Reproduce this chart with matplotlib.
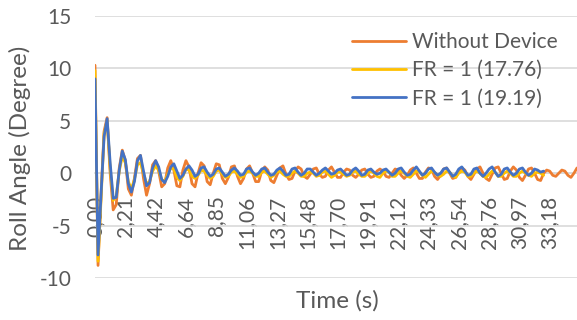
import matplotlib
matplotlib.use("Agg")
import matplotlib.pyplot as plt
import numpy as np

# ---------------- data ----------------
tick_labels = ["0,00", "2,21", "4,42", "6,64", "8,85", "11,06", "13,27", "15,48",
               "17,70", "19,91", "22,12", "24,33", "26,54", "28,76", "30,97", "33,18"]

without_device = [
    10.3, -8.8, -2.0, 4.0, 5.3, 0.0, -3.5, -3.0, 0.5, 2.2,
    1.2, -1.5, -2.1, -0.5, 1.4, 1.7, -0.5, -2.1, -1.0, 0.8,
    1.2, 0.2, -1.3, -1.0, 0.5, 1.2, 0.3, -1.2, -1.3, 0.3,
    1.2, 0.6, -1.0, -1.3, 0.0, 1.0, 0.7, -0.8, -1.1, 0.0,
    0.9, 0.8, -0.5, -1.0, -0.4, 0.6, 0.7, -0.3, -1.0, -0.5,
    0.4, 0.7, 0.0, -0.8, -0.8, 0.2, 0.6, 0.3, -0.7, -0.9,
    -0.2, 0.5, 0.7, -0.1, -0.6, -0.5, 0.2, 0.6, 0.4, -0.3,
    -0.5, -0.1, 0.4, 0.5, -0.1, -0.4, -0.3, 0.3, 0.6, 0.1,
    -0.4, -0.4, 0.1, 0.4, 0.3, -0.2, -0.4, -0.1, 0.3, 0.4,
    -0.1, -0.4, -0.3, 0.2, 0.4, 0.2, -0.3, -0.4, 0.0, 0.4,
    0.3, -0.2, -0.5, -0.2, 0.3, 0.5, 0.0, -0.5, -0.5, 0.1,
    0.5, 0.4, -0.3, -0.6, -0.2, 0.4, 0.5, 0.0, -0.5, -0.4,
    0.2, 0.5, 0.3, -0.3, -0.6, -0.1, 0.4, 0.6, 0.0, -0.5,
    -0.7, -0.1, 0.5, 0.6, 0.0, -0.6, -0.5, 0.2, 0.6, 0.3,
    -0.4, -0.7, -0.2, 0.4, 0.5, 0.0, -0.6, -0.7, 0.0, 0.3,
    0.2, -0.2, -0.3, 0.0, 0.3, 0.2, -0.2, -0.4, 0.0, 0.5,
]

fr_1776 = [
    9.8, -8.4, -2.5, 3.8, 5.0, 0.5, -2.6, -2.2, 0.2, 1.6,
    1.0, -0.8, -1.5, -0.6, 0.8, 1.0, 0.0, -1.0, -0.8, 0.2,
    0.7, 0.3, -0.6, -0.8, -0.1, 0.5, 0.4, -0.4, -0.7, -0.3,
    0.4, 0.3, -0.3, -0.5, -0.2, 0.3, 0.2, -0.2, -0.5, -0.3,
    0.2, 0.3, -0.1, -0.4, -0.3, 0.1, 0.2, -0.1, -0.4, -0.3,
    0.1, 0.2, 0.0, -0.3, -0.3, 0.1, 0.2, -0.1, -0.4, -0.2,
    0.1, 0.2, -0.1, -0.3, -0.3, 0.0, 0.2, 0.0, -0.3, -0.3,
    0.0, 0.1, 0.0, -0.3, -0.2, 0.1, 0.2, -0.1, -0.4, -0.2,
    0.1, 0.1, -0.1, -0.3, -0.2, 0.1, 0.2, -0.1, -0.3, -0.3,
    0.0, 0.2, 0.0, -0.3, -0.4, 0.0, 0.2, 0.1, -0.3, -0.3,
    0.0, 0.2, 0.0, -0.3, -0.4, -0.1, 0.2, 0.1, -0.2, -0.4,
    -0.1, 0.2, 0.1, -0.2, -0.3, -0.1, 0.2, 0.1, -0.3, -0.4,
    0.0, 0.2, 0.1, -0.3, -0.3, 0.0, 0.2, 0.0, -0.3, -0.4,
    -0.1, 0.2, 0.1, -0.3, -0.3, 0.0, 0.2, 0.0, -0.3, -0.3,
    0.0, 0.2, 0.0, -0.2, -0.3, 0.0, 0.1, 0.0, -0.2,
]

fr_1919 = [
    9.0, -7.8, -2.0, 3.5, 5.2, 1.0, -2.4, -2.3, 0.3, 2.1,
    1.3, -1.0, -1.8, -0.8, 1.2, 1.7, 0.2, -1.2, -0.9, 0.5,
    1.2, 0.6, -0.6, -0.9, -0.3, 0.6, 0.9, 0.2, -0.5, -0.2,
    0.4, 0.7, 0.3, -0.3, -0.1, 0.5, 0.6, 0.1, -0.3, -0.1,
    0.4, 0.5, 0.1, -0.3, -0.1, 0.3, 0.5, 0.2, -0.2, -0.1,
    0.4, 0.5, 0.1, -0.2, 0.0, 0.4, 0.5, 0.1, -0.2, -0.1,
    0.3, 0.5, 0.2, -0.2, -0.1, 0.4, 0.5, 0.1, -0.2, 0.0,
    0.4, 0.4, 0.1, -0.2, 0.0, 0.3, 0.5, 0.2, -0.1, 0.0,
    0.3, 0.4, 0.1, -0.2, -0.1, 0.3, 0.5, 0.2, -0.2, -0.1,
    0.3, 0.4, 0.1, -0.1, 0.0, 0.3, 0.4, 0.1, -0.2, 0.0,
    0.4, 0.5, 0.1, -0.2, -0.1, 0.3, 0.6, 0.2, -0.2, 0.0,
    0.4, 0.5, 0.1, -0.2, 0.0, 0.4, 0.5, 0.1, -0.3, -0.1,
    0.4, 0.6, 0.2, -0.2, -0.1, 0.4, 0.5, 0.0, -0.3, 0.0,
    0.4, 0.6, 0.1, -0.3, -0.1, 0.4, 0.5, 0.1, -0.2, 0.0,
    0.4, 0.5, 0.1, -0.2, 0.0, 0.4, 0.3, 0.1, 0.2,
]

series_names = ["Without Device", "FR = 1 (17.76)", "FR = 1 (19.19)"]
series_colors = ["#ED7D31", "#FFC000", "#4472C4"]

# ---------------- plot ----------------
W, H, DPI = 577, 320, 100
plt.rcParams['font.family'] = ['Lato', 'DejaVu Sans']
plt.rcParams['axes.unicode_minus'] = False
text_color = "#595959"
fs_tick = 15
fs_leg = 15
fs_title = 17.5

fig = plt.figure(figsize=(W / DPI, H / DPI), dpi=DPI)
ax = fig.add_axes([95 / W, (H - 278) / H, (577 - 95) / W, (278 - 16) / H])

for name, vals, col in zip(series_names, [without_device, fr_1776, fr_1919], series_colors):
    ax.plot(np.arange(len(vals)), vals, color=col, lw=2.0, label=name,
            solid_joinstyle='round', solid_capstyle='round')

ax.set_xlim(0, 159)
ax.set_ylim(-10, 15)
ax.set_yticks([-10, -5, 0, 5, 10, 15])
ax.grid(axis='y', color='#d9d9d9', lw=1.2)
ax.set_axisbelow(True)
for s in ['top', 'right', 'left']:
    ax.spines[s].set_visible(False)
ax.spines['bottom'].set_position(('data', 0))
ax.spines['bottom'].set_color('#d9d9d9')
ax.spines['bottom'].set_linewidth(1.2)
ax.spines['bottom'].set_zorder(0)

ax.set_xticks(np.arange(len(tick_labels)) * 10)
ax.set_xticklabels(tick_labels, rotation=90, fontsize=fs_tick, color=text_color)
ax.tick_params(axis='x', length=0, pad=16)
ax.tick_params(axis='y', length=0, pad=17, labelsize=fs_tick, labelcolor=text_color)

fig.text(20 / W, 1 - 148 / H, "Roll Angle (Degree)", rotation=90, ha='center', va='center',
         fontsize=fs_title, color=text_color)
fig.text(337 / W, 1 - 301 / H, "Time (s)", ha='center', va='center', fontsize=fs_title, color=text_color)

leg = ax.legend(loc='upper left', bbox_to_anchor=(352 / W, 1 - 32 / H), bbox_transform=fig.transFigure,
                frameon=False, fontsize=fs_leg, handlelength=2.6, handletextpad=0.3,
                labelspacing=0.4, borderaxespad=0, borderpad=0)
for t in leg.get_texts():
    t.set_color(text_color)

fig.savefig("out.png", dpi=DPI)
